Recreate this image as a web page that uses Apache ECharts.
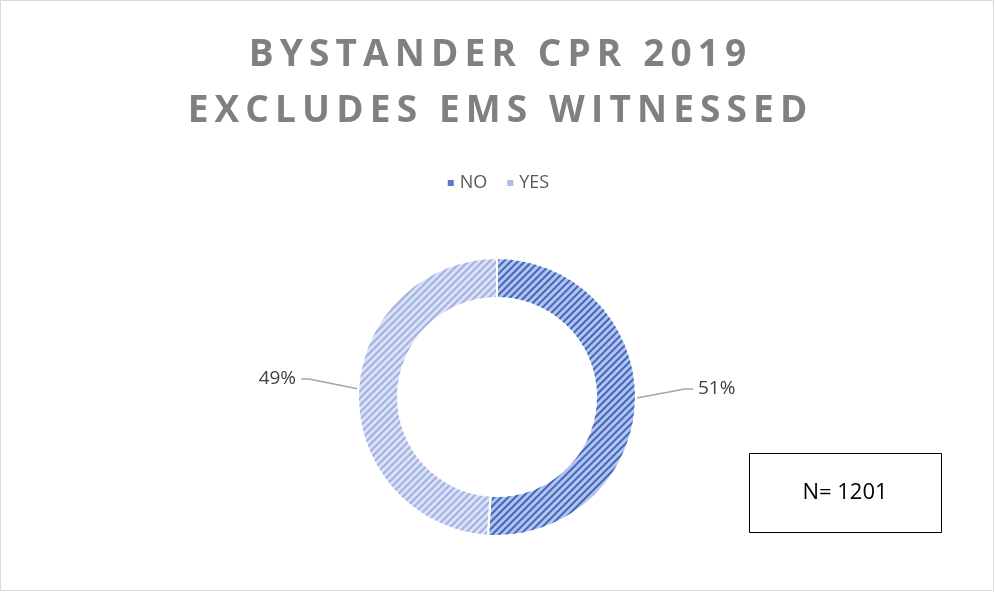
<!DOCTYPE html>
<html>
<head>
<meta charset="utf-8">
<script src="https://cdn.jsdelivr.net/npm/echarts@6/dist/echarts.min.js"></script>
<style>
  html, body { margin: 0; padding: 0; background: #fff; }
  #chart { width: 995px; height: 592px; }
</style>
</head>
<body>
<div id="chart"></div>
<script>
// chart data
const titleLines = ['BYSTANDER CPR 2019', 'EXCLUDES EMS WITNESSED'];
const categories = ['NO', 'YES'];
const counts = [613, 588];
const totalN = 1201;

const baseColors = ['#b3c3ea', '#dbe1f4'];
const stripeColors = ['#3f66c0', '#9fb0e2'];
const legendColors = ['#5a7cc8', '#aebce6'];

// spread the letters out (title is letter-spaced in the original)
const spaced = s => s.split('').join('\u2009');

const chart = echarts.init(document.getElementById('chart'));

const pieData = categories.map((name, i) => ({
    name: name,
    value: counts[i],
    itemStyle: {
        color: baseColors[i],
        decal: {
            symbol: 'rect',
            color: stripeColors[i],
            dashArrayX: [1, 0],
            dashArrayY: [2, 3],
            rotation: -Math.PI / 4
        }
    }
}));

chart.setOption({
    backgroundColor: '#fff',
    title: {
        text: titleLines.map(spaced).join('\n'),
        left: 'center',
        top: 22,
        textStyle: {
            fontFamily: 'Open Sans',
            fontSize: 37,
            fontWeight: 'bold',
            color: '#808080',
            lineHeight: 56
        }
    },
    legend: {
        top: 169,
        left: 'center',
        icon: 'rect',
        itemWidth: 8,
        itemHeight: 8,
        itemGap: 18,
        textStyle: { fontFamily: 'Open Sans', fontSize: 18, color: '#595959' },
        data: categories.map((name, i) => ({
            name: name,
            itemStyle: { color: legendColors[i], decal: 'none' }
        }))
    },
    series: [{
        type: 'pie',
        center: [497, 397],
        radius: [99, 139],
        startAngle: 90,
        clockwise: true,
        avoidLabelOverlap: false,
        itemStyle: { borderColor: '#fff', borderWidth: 2 },
        label: {
            formatter: p => Math.round(p.percent) + '%',
            fontFamily: 'Open Sans',
            fontSize: 19,
            color: '#404040'
        },
        labelLine: {
            length: 12,
            length2: 45,
            lineStyle: { color: '#a6a6a6', width: 1.5 }
        },
        // lift the labels a little and bend the leader line up to them
        labelLayout: params => {
            const pts = params.labelLinePoints;
            if (!pts) return { dy: -13 };
            const p0 = pts[0], p2 = pts[2];
            const dir = p2[0] > p0[0] ? 1 : -1;
            return {
                dy: -13,
                labelLinePoints: [
                    [p0[0] - dir * 18, p0[1]],
                    [p2[0] - dir * 8, p2[1] - 13],
                    [p2[0], p2[1] - 13]
                ]
            };
        },
        data: pieData
    }],
    graphic: [
        {
            type: 'rect',
            shape: { x: 0.5, y: 0.5, width: 993, height: 590 },
            style: { fill: 'none', stroke: '#d9d9d9', lineWidth: 1 }
        },
        {
            type: 'rect',
            shape: { x: 749.5, y: 453.5, width: 192, height: 79 },
            style: { fill: '#fff', stroke: '#000', lineWidth: 1 }
        },
        {
            type: 'text',
            x: 845,
            y: 493,
            style: {
                text: 'N= ' + totalN,
                fontFamily: 'Open Sans',
                fontSize: 22,
                fill: '#000',
                align: 'center',
                verticalAlign: 'middle'
            }
        }
    ]
});
</script>
</body>
</html>
